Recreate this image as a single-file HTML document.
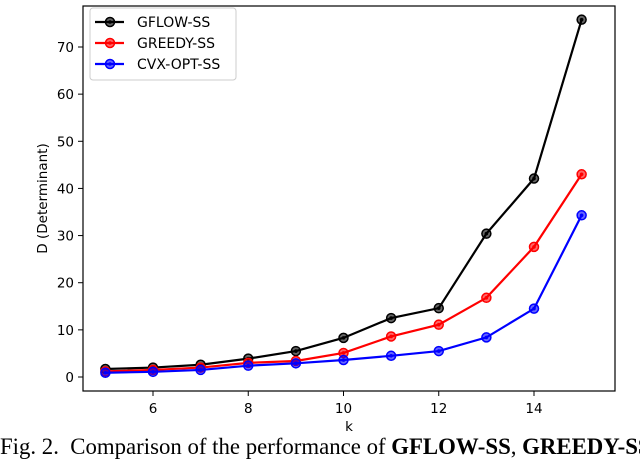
<!DOCTYPE html>
<html><head><meta charset="utf-8"><style>
html,body{margin:0;padding:0;background:#fff;width:640px;height:459px;overflow:hidden}
svg text{font-family:"DejaVu Sans","Liberation Sans",sans-serif}
.cap{position:absolute;left:0px;top:434px;white-space:nowrap;font-family:"Liberation Serif",serif;font-size:22.8px;color:#000}
</style></head><body>
<svg id="c" width="640" height="459" style="position:absolute;left:0;top:0"></svg>
<div class="cap">Fig. 2.&nbsp; Comparison of the performance of <b>GFLOW-SS</b>, <b>GREEDY-SS</b></div>
<script>
const ks=[5,6,7,8,9,10,11,12,13,14,15];
const gflow=[1.7,2.0,2.6,3.9,5.5,8.3,12.5,14.6,30.4,42.1,75.8];
const greedy=[1.2,1.5,2.0,3.0,3.4,5.1,8.6,11.1,16.8,27.6,43.0];
const cvx=[0.9,1.1,1.5,2.4,2.9,3.6,4.5,5.5,8.4,14.5,34.3];
const xTicks=[6,8,10,12,14];
const yTicks=[0,10,20,30,40,50,60,70];
const names=["GFLOW-SS","GREEDY-SS","CVX-OPT-SS"];
const colors=["#000000","#ff0000","#0000ff"];
const L=83,R=615,T=6,B=391;
const X=v=>153+(v-6)*(534-153)/8;
const Y=v=>377-v*(377-47)/70;
const s=document.getElementById('c');const NS="http://www.w3.org/2000/svg";
function mk(t,a,p){const e=document.createElementNS(NS,t);for(const k in a)e.setAttribute(k,a[k]);(p||s).appendChild(e);return e;}
const frame=mk('rect',{x:L,y:T,width:R-L,height:B-T,fill:'none',stroke:'#000','stroke-width':1.2});


xTicks.forEach(v=>{
 const l=mk('line',{x1:X(v),x2:X(v),y1:B,y2:B+5,stroke:'#000'});
 
 
 const t=mk('text',{x:X(v),y:B+22,'text-anchor':'middle','font-size':13.5});t.textContent=v;
 
 
});
yTicks.forEach(v=>{
 const l=mk('line',{x1:L-5,x2:L,y1:Y(v),y2:Y(v),stroke:'#000'});
 
 
 const t=mk('text',{x:L-9,y:Y(v)+5,'text-anchor':'end','font-size':13.5});t.textContent=v;
 
 
});
const xl=mk('text',{x:(L+R)/2,y:B+40,'text-anchor':'middle','font-size':13.5});xl.textContent='k';


const yl=mk('text',{x:0,y:0,'text-anchor':'middle','font-size':13.5,transform:`translate(47,${(T+B)/2}) rotate(-90)`});yl.textContent='D (Determinant)';


[gflow,greedy,cvx].forEach((d,i)=>{
 const g=mk('g',{});
 
 
 const p=mk('polyline',{points:ks.map((k,j)=>X(k)+','+Y(d[j])).join(' '),fill:'none',stroke:colors[i],'stroke-width':2.2},g);
 
 
 ks.forEach((k,j)=>{
  const c=mk('circle',{cx:X(k),cy:Y(d[j]),r:4.5,fill:colors[i],'fill-opacity':0.6,stroke:colors[i],'stroke-width':1.5},g);
  
  
  mk('circle',{cx:X(k),cy:Y(d[j]),r:1.8,fill:colors[i]},g);
 });
});
const lg=mk('g',{});


mk('rect',{x:90,y:8,width:146,height:72,rx:3,fill:'#fff',stroke:'#ccc'},lg);
names.forEach((n,i)=>{
 const y=22+i*21;
 const e=mk('g',{},lg);
 
 
 mk('line',{x1:95,x2:124,y1:y,y2:y,stroke:colors[i],'stroke-width':2.2},e);
 mk('circle',{cx:110,cy:y,r:4.5,fill:colors[i],'fill-opacity':0.6,stroke:colors[i],'stroke-width':1.5},e);
 mk('circle',{cx:110,cy:y,r:1.8,fill:colors[i]},e);
 const t=mk('text',{x:137,y:y+5,'font-size':14},e);t.textContent=n;
});
</script>
</body></html>
